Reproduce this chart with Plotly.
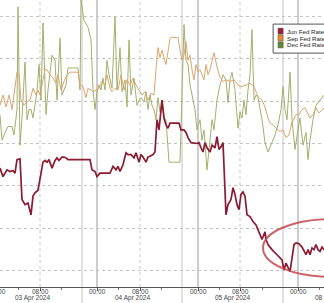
import plotly.graph_objects as go

# x = intraday bar index on a collapsed Bloomberg-style time axis; y = implied rate-cut probability (%)
jun_x = [0,3,7,10,13,15,17,20,22,25,28,31,33,35,38,40,43,45,47,49,52,55,57,59,62,64,66,68,90,92,95,97,100,110,113,116,118,120,123,126,128,131,134,136,139,141,143,146,148,150,153,155,157,159,161,162,164,166,168,170,179,181,184,186,188,191,197,199,201,203,205,207,210,212,215,217,219,221,223,226,228,231,233,235,237,239,241,243,245,247,250,253,256,258,262,265,266,268,272,277,282,284,286,288,290,292,294,296,299,302,304,306,308,310,312,314,316,318,320,322,324]
jun_y = [57.1,56.1,56.9,56.7,56.8,56.5,58.1,58.2,53.4,52.8,53.0,51.6,53.8,54.2,54.5,55.7,57.8,58.0,57.8,58.1,57.1,58.0,58.3,58.0,58.4,58.4,58.3,58.1,58.1,56.9,56.7,56.1,56.5,56.5,57.3,56.9,57.3,56.7,57.5,58.9,58.7,58.7,58.3,58.9,57.8,58.7,58.4,57.8,58.4,58.5,58.7,59.0,62.8,61.6,63.7,65.1,63.0,62.2,61.8,62.4,62.4,61.6,61.6,61.3,60.7,60.1,60.0,60.1,59.5,59.0,60.1,59.5,59.0,59.8,59.5,60.8,59.3,59.6,60.1,51.6,52.8,53.4,54.8,54.0,52.8,52.2,54.0,54.3,53.8,51.6,51.4,50.8,50.4,49.8,48.7,49.6,48.7,48.1,47.5,46.9,46.3,45.1,45.9,45.4,44.9,46.5,48.1,48.3,48.2,47.8,47.3,46.9,47.5,46.9,47.7,47.5,48.1,47.5,47.3,47.8,47.5]

sep_x = [0,3,6,9,12,14,17,19,21,24,27,30,33,36,38,40,43,45,47,50,53,56,58,61,64,67,70,78,80,83,86,88,91,93,96,99,102,105,107,110,112,115,118,121,124,127,130,133,136,139,142,145,148,151,154,156,158,160,162,164,166,168,170,172,178,180,182,184,186,188,190,192,194,196,198,200,202,204,206,208,210,212,214,217,220,223,226,230,234,238,242,246,250,254,258,262,265,268,270,273,276,280,283,286,289,292,296,299,302,305,307,310,313,316,319,322,324]
sep_y = [64.5,65.7,64.3,65.7,64.0,65.7,68.4,68.1,65.1,64.5,64.9,65.1,66.5,65.7,66.3,65.7,67.5,68.7,68.7,68.1,67.7,67.1,68.1,66.3,67.3,68.1,68.4,68.4,66.9,66.7,65.4,66.5,66.3,66.1,66.3,66.5,67.3,66.9,68.1,66.5,66.1,66.5,66.3,68.1,66.3,67.5,66.9,67.7,66.9,66.3,65.7,66.1,65.1,65.9,65.7,68.7,71.3,70.1,71.0,70.1,69.3,70.8,72.4,72.5,72.5,71.0,69.8,70.4,72.0,69.8,70.4,68.7,67.5,69.3,68.4,68.7,68.1,67.5,69.3,68.1,68.7,69.8,70.7,69.0,67.8,67.3,67.5,67.3,67.5,66.9,66.7,66.9,67.1,66.7,65.5,65.1,64.3,63.0,62.4,62.2,61.8,61.4,61.6,60.7,61.0,62.5,63.4,63.4,64.0,64.2,63.7,63.0,63.4,64.2,63.6,64.0,64.2]

dec_x = [0,2,5,8,12,14,17,18,20,22,25,27,29,31,33,35,37,39,41,43,46,48,50,52,55,57,60,62,64,66,68,78,80,81,84,88,91,93,95,97,99,101,103,105,107,109,112,115,117,120,122,125,127,129,131,134,137,139,141,144,146,148,150,152,154,156,158,160,162,164,166,169,180,182,184,186,188,190,193,195,197,200,202,204,207,210,212,214,217,220,223,226,228,230,232,235,238,240,242,244,246,248,250,252,254,256,258,262,265,268,272,275,278,281,283,285,287,290,292,295,298,300,303,306,308,310,313,316,320,324]
dec_y = [63.4,60.4,61.3,62.0,62.0,61.0,64.0,76.1,59.8,63.0,69.6,62.8,64.0,64.0,63.0,64.5,66.1,69.3,65.1,74.2,63.4,66.3,68.7,70.4,69.8,65.1,72.4,65.7,66.3,66.9,68.9,68.9,66.3,76.9,74.5,73.7,72.2,66.3,64.0,66.1,66.9,66.3,67.7,66.3,69.8,68.1,66.5,74.9,66.3,71.3,66.1,67.5,64.3,72.2,65.7,67.7,64.5,65.1,65.4,64.9,66.1,64.0,65.7,64.5,64.0,62.8,65.4,63.7,65.1,63.0,62.8,57.8,57.8,65.1,74.0,69.8,69.3,66.9,65.1,64.0,61.6,62.8,60.4,61.6,56.9,60.4,62.8,61.6,65.1,66.9,68.1,67.5,64.8,67.5,68.4,66.3,61.8,63.7,63.0,65.1,63.4,66.3,68.1,73.4,65.1,65.7,65.4,62.8,60.1,59.0,60.1,61.0,62.2,64.0,66.7,64.0,62.8,68.4,62.8,59.3,61.6,63.0,59.8,61.3,58.1,60.4,62.8,64.5,65.1,65.7]

series_names = ["Jun Fed Rate-Cut Probability", "Sep Fed Rate-Cut Probability", "Dec Fed Rate-Cut Probability"]
line_colors = ["#8b1a32", "#dda56c", "#a3b06e"]
swatch_colors = ["#a31d3a", "#e38a2e", "#5e8c2e"]

midnight_ticks = [-3, 97, 198, 298]
morning_ticks = [40, 140, 240]
session_breaks = [82, 182, 283]
minor_ticks = [18.5, 61.5, 118.5, 161.5, 219.5, 262.5, 319.5]
day_centers = [32, 132, 232, 333]
day_labels = ["03 Apr 2024", "04 Apr 2024", "05 Apr 2024", "08 Apr 2024"]

X_RANGE = [0, 324]
Y_RANGE = [43.1, 76.9]
FONT = "Liberation Sans, Arial"


def to_paper_x(v):
    return (v - X_RANGE[0]) / (X_RANGE[1] - X_RANGE[0])


fig = go.Figure()
for xs, ys, name, col, w in [(dec_x, dec_y, series_names[2], line_colors[2], 1),
                              (sep_x, sep_y, series_names[1], line_colors[1], 1),
                              (jun_x, jun_y, series_names[0], line_colors[0], 1.7)]:
    fig.add_trace(go.Scatter(x=xs, y=ys, mode="lines", name=name,
                             line=dict(color=col, width=w), showlegend=False))

shapes = []
for v in session_breaks:
    shapes.append(dict(type="line", xref="x", yref="paper", x0=v, x1=v, y0=-0.06, y1=1,
                       line=dict(color="#c4c4c4", width=1), layer="below"))
for v in midnight_ticks:
    shapes.append(dict(type="line", xref="x", yref="paper", x0=v, x1=v, y0=0, y1=1,
                       line=dict(color="#9a9a9a", width=1), layer="below"))
for v in morning_ticks:
    shapes.append(dict(type="line", xref="x", yref="paper", x0=v, x1=v, y0=0, y1=1,
                       line=dict(color="#c8c8c8", width=1, dash="dot"), layer="below"))

# highlight ellipse
shapes.append(dict(type="circle", xref="x", yref="y", x0=263, x1=399, y0=44.3, y1=51.1,
                   line=dict(color="rgba(196,72,80,0.85)", width=2)))

# legend box
shapes.append(dict(type="rect", xref="paper", yref="paper", x0=0.843, x1=1.1, y0=0.815, y1=0.916,
                   fillcolor="white", line=dict(color="#555555", width=1), layer="above"))
sq_y = [(0.881, 0.902), (0.857, 0.878), (0.833, 0.854)]
annotations = []
for (y0, y1), col, name in zip(sq_y, swatch_colors, series_names):
    shapes.append(dict(type="rect", xref="paper", yref="paper", x0=0.858, x1=0.874, y0=y0, y1=y1,
                       fillcolor=col, line=dict(color="#555555", width=0.5), layer="above"))
    annotations.append(dict(xref="paper", yref="paper", x=0.879, y=(y0 + y1) / 2, text=name,
                            showarrow=False, xanchor="left", yanchor="middle",
                            font=dict(size=6.2, color="#222222", family=FONT)))

# time tick labels and day labels (as text under the axis)
for v in sorted(midnight_ticks + morning_ticks):
    annotations.append(dict(xref="paper", yref="paper", x=to_paper_x(v), y=-0.0155,
                            text="08:00" if v in morning_ticks else "00:00",
                            showarrow=False, xanchor="center", yanchor="middle",
                            font=dict(size=6.5, color="#444444", family=FONT)))
for c, lab in zip(day_centers, day_labels):
    annotations.append(dict(xref="paper", yref="paper", x=to_paper_x(c), y=-0.039, text=lab,
                            showarrow=False, xanchor="center", yanchor="middle",
                            font=dict(size=6.5, color="#444444", family=FONT)))

fig.update_layout(
    width=324, height=303,
    margin=dict(l=0, r=0, t=0, b=16),
    paper_bgcolor="white", plot_bgcolor="white",
    shapes=shapes, annotations=annotations,
    xaxis=dict(range=X_RANGE, showgrid=False, zeroline=False,
               tickmode="array", tickvals=sorted([t for t in midnight_ticks if t >= 0] + morning_ticks),
               showticklabels=False,
               ticks="outside", ticklen=3, tickcolor="#555555",
               showline=True, linecolor="#555555", linewidth=1,
               minor=dict(tickmode="array", tickvals=minor_ticks, ticks="outside",
                          ticklen=2, tickcolor="#777777", showgrid=False)),
    yaxis=dict(range=Y_RANGE, showticklabels=False, zeroline=False,
               tick0=45, dtick=5, showgrid=True, gridcolor="#c4c4c4", griddash="dot", gridwidth=1),
    showlegend=False,
)

fig.write_html("out.html")
